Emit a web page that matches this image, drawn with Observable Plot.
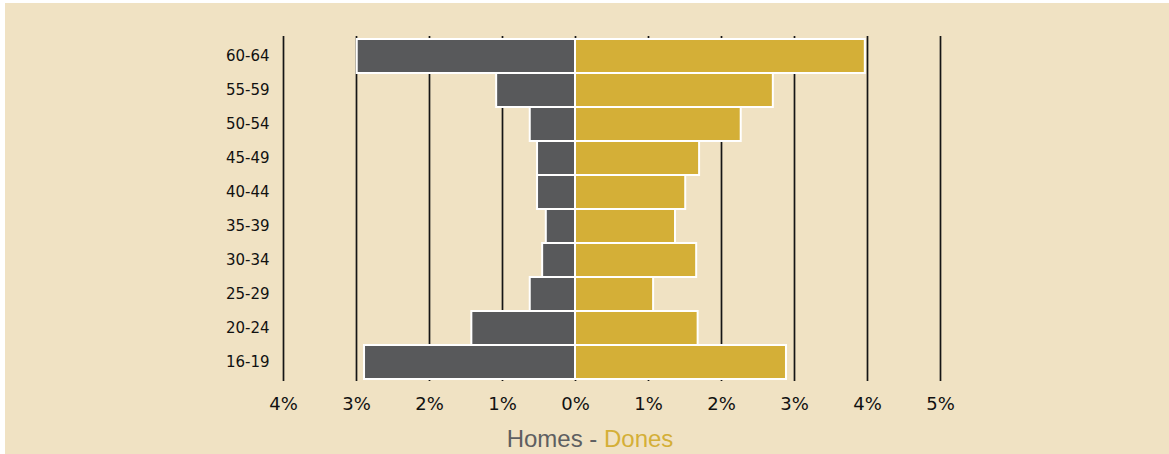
<!DOCTYPE html>
<html>
<head>
<meta charset="utf-8">
<script src="https://cdn.jsdelivr.net/npm/d3@7"></script>
<script src="https://cdn.jsdelivr.net/npm/@observablehq/plot@0.6"></script>
<style>
  html, body { margin: 0; padding: 0; background: #ffffff; }
  #chart { position: absolute; left: 5px; top: 3px; width: 1164px; height: 451px; background: #f0e2c3; overflow: hidden; }
  #title { position: absolute; left: 3px; top: 422px; width: 1164px; text-align: center; font-family: "Liberation Sans", Arial, sans-serif; font-size: 24px; line-height: normal; }
</style>
</head>
<body>
<div id="chart"><div id="plot"></div><div id="title"></div></div>
<script>
const ages = ["60-64", "55-59", "50-54", "45-49", "40-44", "35-39", "30-34", "25-29", "20-24", "16-19"];
const homes = [2.99, 1.08, 0.62, 0.52, 0.52, 0.40, 0.45, 0.62, 1.42, 2.89];
const dones = [3.97, 2.71, 2.27, 1.70, 1.51, 1.37, 1.66, 1.07, 1.68, 2.89];
const tickValues = [-4, -3, -2, -1, 0, 1, 2, 3, 4, 5];
const tickLabels = ["4%", "3%", "2%", "1%", "0%", "1%", "2%", "3%", "4%", "5%"];
const seriesNames = ["Homes", "Dones"];
const colors = ["#58595b", "#d4af37"];

const rows = ages.map((age, i) => ({age, homes: homes[i], dones: dones[i]}));

const chart = Plot.plot({
  width: 1164,
  height: 420,
  marginLeft: 278,
  marginRight: 229,
  marginTop: 33,
  marginBottom: 42,
  style: {background: "transparent", fontFamily: "'DejaVu Sans', Verdana, sans-serif", color: "#111"},
  x: {domain: [-4, 5]},
  y: {domain: ages, paddingInner: 0, paddingOuter: 0.05},
  marks: [
    Plot.ruleX(tickValues, {stroke: "#151515", strokeWidth: 1.7}),
    Plot.barX(rows, {y: "age", x1: d => 0, x2: d => -d.homes, fill: colors[0], stroke: "#ffffff", strokeWidth: 2}),
    Plot.barX(rows, {y: "age", x1: d => 0, x2: d => d.dones, fill: colors[1], stroke: "#ffffff", strokeWidth: 2}),
    Plot.axisX({ticks: tickValues, tickFormat: (d) => tickLabels[tickValues.indexOf(d)], tickSize: 0, tickPadding: 16, fontSize: 18, label: null, fill: "#111"}),
    Plot.axisY({tickSize: 0, tickPadding: 14, fontSize: 15, label: null, fill: "#111"})
  ]
});
document.getElementById("plot").appendChild(chart);

const title = document.getElementById("title");
const s1 = document.createElement("span"); s1.textContent = seriesNames[0]; s1.style.color = "#5e5f61";
const sep = document.createElement("span"); sep.textContent = " - "; sep.style.color = "#5e5f61";
const s2 = document.createElement("span"); s2.textContent = seriesNames[1]; s2.style.color = colors[1];
title.append(s1, sep, s2);
</script>
</body>
</html>
